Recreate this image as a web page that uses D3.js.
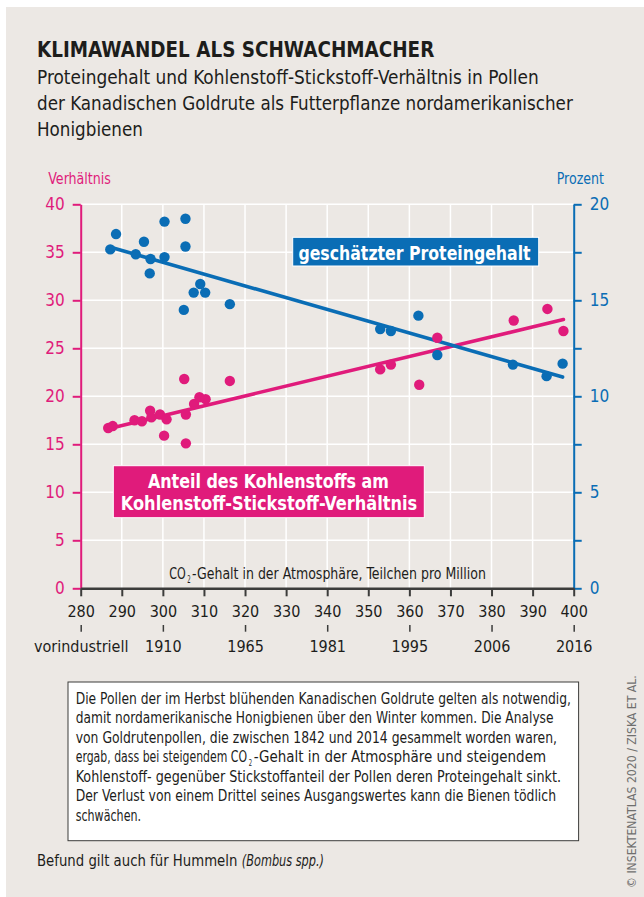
<!DOCTYPE html>
<html><head><meta charset="utf-8">
<script src="https://cdn.jsdelivr.net/npm/d3@7"></script>
<style>
html,body{margin:0;padding:0;background:#fff;}
svg{display:block;}
text{font-family:'Liberation Sans Narrow','DejaVu Sans Condensed','Liberation Sans',Arial,sans-serif;}
</style></head><body>
<script>
// Goldenrod pollen samples: atmospheric CO2 (ppm) vs. protein content (%)
const proteinCo2 = [287.2, 288.6, 293.4, 295.4, 297.0, 296.8, 300.4, 300.4, 305.5, 305.5, 305.1, 307.5, 309.1, 310.3, 316.3, 352.9, 355.5, 362.2, 366.8, 385.2, 393.4, 397.3];
const proteinPct = [17.65, 18.45, 17.4, 18.05, 17.15, 16.4, 19.1, 17.25, 19.25, 17.8, 14.5, 15.4, 15.85, 15.4, 14.8, 13.5, 13.4, 14.2, 12.15, 11.65, 11.05, 11.7];

// Same samples: carbon-to-nitrogen ratio
const ratioCo2 = [286.7, 287.8, 293.1, 294.9, 296.9, 297.2, 299.3, 300.3, 300.9, 305.2, 305.6, 305.6, 307.6, 308.9, 310.4, 316.3, 352.9, 355.5, 362.4, 366.8, 385.4, 393.6, 397.5];
const ratioValues = [16.7, 16.9, 17.5, 17.4, 18.5, 17.8, 18.1, 15.9, 17.6, 21.8, 18.1, 15.1, 19.2, 19.9, 19.7, 21.6, 22.8, 23.3, 21.2, 26.1, 27.9, 29.1, 26.8];

// Fitted trend lines (end points)
const proteinTrendCo2 = [287.5, 397.3];
const proteinTrendPct = [17.75, 11.0];
const ratioTrendCo2 = [286.5, 397.5];
const ratioTrendValues = [16.6, 28.0];

// Axis ticks
const co2Ticks = [280, 290, 300, 310, 320, 330, 340, 350, 360, 370, 380, 390, 400];
const ratioTicks = [0, 5, 10, 15, 20, 25, 30, 35, 40];
const percentTicks = [0, 2.5, 5, 7.5, 10, 12.5, 15, 17.5, 20];
const yearTickCo2 = [280, 300, 320, 340, 360, 380, 400];
const yearLabels = ["vorindustriell", "1910", "1965", "1981", "1995", "2006", "2016"];

const PINK = "#e01b7b", BLUE = "#0a6db5", BG = "#ece8e4", INK = "#1d1d1b";

const W = 644, H = 897;
const svg = d3.select("body").append("svg").attr("width", W).attr("height", H);

svg.append("rect").attr("x", 6).attr("y", 7).attr("width", W - 6).attr("height", H - 7).attr("fill", BG);

// Places a text at (x, y) and squeezes it horizontally to the given width (condensed look)
function label(s, x, y, w, opts = {}) {
  const t = svg.append("text").attr("x", 0).attr("y", 0)
    .attr("font-size", opts.size || 16).attr("fill", opts.fill || INK)
    .attr("text-anchor", opts.anchor || "start").text(s);
  if (opts.bold) t.attr("font-weight", "bold");
  if (opts.italic) t.attr("font-style", "italic");
  const k = w / t.node().getComputedTextLength();
  t.attr("transform", `translate(${x},${y})${opts.rotate ? ` rotate(${opts.rotate})` : ""} scale(${k},1)`);
  return t;
}

// A line made of runs [text, x0, x1, style]; subscripts sit lower and smaller
function runs(y, size, parts) {
  parts.forEach(([s, x0, x1, style]) => {
    if (style === "sub") label(s, x0, y + 4, x1 - x0, { size: size * 0.62 });
    else label(s, x0, y, x1 - x0, { size, italic: style === "italic" });
  });
}

// Heading
label("KLIMAWANDEL ALS SCHWACHMACHER", 37, 56.7, 397.5, { size: 22, bold: true });
label("Proteingehalt und Kohlenstoff-Stickstoff-Verhältnis in Pollen", 37, 83.5, 502, { size: 19 });
label("der Kanadischen Goldrute als Futterpflanze nordamerikanischer", 37, 109.5, 536, { size: 19 });
label("Honigbienen", 37, 135.5, 106, { size: 19 });

// Scales
const x = d3.scaleLinear().domain([280, 400]).range([80.7, 573.7]);
const yL = d3.scaleLinear().domain([0, 40]).range([588.3, 204.3]);
const yR = d3.scaleLinear().domain([0, 20]).range([588.3, 204.3]);

// Grid
const grid = svg.append("g").attr("stroke", "#fff").attr("stroke-width", 1.5);
grid.selectAll(".h").data(ratioTicks.filter(d => d > 0)).join("line")
  .attr("x1", x(280)).attr("x2", x(400)).attr("y1", d => yL(d)).attr("y2", d => yL(d));
grid.selectAll(".v").data(co2Ticks.filter(d => d > 280 && d < 400)).join("line")
  .attr("y1", yL(0)).attr("y2", yL(40)).attr("x1", d => x(d)).attr("x2", d => x(d));

// Axis titles
label("Verhältnis", 48.3, 183.5, 62.7, { size: 16, fill: PINK });
label("Prozent", 556.7, 183.5, 47.3, { size: 16, fill: BLUE });

const tickFont = "'Liberation Sans',Arial,sans-serif";

// Left axis
const gL = svg.append("g").attr("transform", `translate(${x(280)},0)`)
  .call(d3.axisLeft(yL).tickValues(ratioTicks).tickSize(8).tickPadding(8).tickSizeOuter(0));
gL.select(".domain").attr("stroke", PINK).attr("stroke-width", 2);
gL.selectAll(".tick line").attr("stroke", PINK).attr("stroke-width", 2);
gL.selectAll(".tick text").attr("fill", PINK).attr("font-size", 17).attr("font-family", tickFont);

// Right axis
const gR = svg.append("g").attr("transform", `translate(${x(400)},0)`)
  .call(d3.axisRight(yR).tickValues(percentTicks).tickSize(8).tickPadding(8).tickSizeOuter(0)
    .tickFormat(d => d % 5 === 0 ? d : ""));
gR.select(".domain").attr("stroke", BLUE).attr("stroke-width", 2);
gR.selectAll(".tick line").attr("stroke", BLUE).attr("stroke-width", 2);
gR.selectAll(".tick text").attr("fill", BLUE).attr("font-size", 17).attr("font-family", tickFont);

// Bottom axis
const gB = svg.append("g").attr("transform", `translate(0,${yL(0)})`)
  .call(d3.axisBottom(x).tickValues(co2Ticks).tickSize(8).tickPadding(9).tickSizeOuter(0));
gB.select(".domain").attr("stroke", "#3c3c3b").attr("stroke-width", 2.5);
gB.selectAll(".tick line").attr("stroke", "#3c3c3b").attr("stroke-width", 2);
gB.selectAll(".tick text").attr("fill", INK).attr("font-size", 16).attr("font-family", tickFont);

// Year axis
const gY = svg.append("g").attr("transform", "translate(0,625)")
  .call(d3.axisBottom(x).tickValues(yearTickCo2).tickSize(6.7).tickPadding(9.3)
    .tickFormat((d, i) => yearLabels[i]));
gY.select(".domain").remove();
gY.selectAll(".tick line").attr("stroke", "#3c3c3b").attr("stroke-width", 1.5);
gY.selectAll(".tick text").attr("fill", INK).attr("font-size", 16).attr("font-family", tickFont);

// x-axis title
runs(578.5, 16, [["CO", 169.3, 185.8], ["2", 187.2, 190.6, "sub"],
  ["-Gehalt in der Atmosphäre, Teilchen pro Million", 192, 486]]);

// Trend lines
const line = d3.line();
svg.append("path").attr("fill", "none").attr("stroke", PINK).attr("stroke-width", 3.6).attr("stroke-linecap", "round")
  .attr("d", line(ratioTrendCo2.map((c, i) => [x(c), yL(ratioTrendValues[i])])));
svg.append("path").attr("fill", "none").attr("stroke", BLUE).attr("stroke-width", 3.6).attr("stroke-linecap", "round")
  .attr("d", line(proteinTrendCo2.map((c, i) => [x(c), yR(proteinTrendPct[i])])));

// Points
svg.append("g").selectAll("circle").data(ratioCo2).join("circle")
  .attr("cx", d => x(d)).attr("cy", (d, i) => yL(ratioValues[i])).attr("r", 5.2).attr("fill", PINK);
svg.append("g").selectAll("circle").data(proteinCo2).join("circle")
  .attr("cx", d => x(d)).attr("cy", (d, i) => yR(proteinPct[i])).attr("r", 5.2).attr("fill", BLUE);

// Series labels
svg.append("rect").attr("x", 292.7).attr("y", 237.3).attr("width", 246).attr("height", 28.7)
  .attr("fill", BLUE).attr("stroke", "#fff").attr("stroke-width", 1);
label("geschätzter Proteingehalt", 414.5, 260, 232.4, { size: 20, bold: true, fill: "#fff", anchor: "middle" });

svg.append("rect").attr("x", 113.3).attr("y", 465.7).attr("width", 311).attr("height", 52)
  .attr("fill", PINK).attr("stroke", "#fff").attr("stroke-width", 1);
label("Anteil des Kohlenstoffs am", 268.4, 488.3, 241.3, { size: 20, bold: true, fill: "#fff", anchor: "middle" });
label("Kohlenstoff-Stickstoff-Verhältnis", 269, 509.6, 296.6, { size: 20, bold: true, fill: "#fff", anchor: "middle" });

// Explanatory box
svg.append("rect").attr("x", 68).attr("y", 682).attr("width", 510.6).attr("height", 158.7)
  .attr("fill", "#fff").attr("stroke", "#3c3c3b").attr("stroke-width", 1);
const boxY = i => 703.5 + i * 19.5;
runs(boxY(0), 15.5, [["Die Pollen der im Herbst blühenden Kanadischen Goldrute gelten als notwendig,", 75.7, 571.4]]);
runs(boxY(1), 15.5, [["damit nordamerikanische Honigbienen über den Winter kommen. Die Analyse", 75.7, 553.6]]);
runs(boxY(2), 15.5, [["von Goldrutenpollen, die zwischen 1842 und 2014 gesammelt worden waren,", 75.7, 557.1]]);
runs(boxY(3), 15.5, [["ergab, dass bei steigendem CO", 75.7, 247.3], ["2", 248.8, 252.2, "sub"],
  ["-Gehalt in der Atmosphäre und steigendem", 253.7, 546.4]]);
runs(boxY(4), 15.5, [["Kohlenstoff- gegenüber Stickstoffanteil der Pollen deren Proteingehalt sinkt.", 75.7, 561.4]]);
runs(boxY(5), 15.5, [["Der Verlust von einem Drittel seines Ausgangswertes kann die Bienen tödlich", 75.7, 556.4]]);
runs(boxY(6), 15.5, [["schwächen.", 75.7, 141.1]]);

runs(865.5, 15.5, [["Befund gilt auch für Hummeln", 37, 237.5], ["(Bombus spp.)", 241.8, 324, "italic"]]);

// Credit
label("© INSEKTENATLAS 2020 / ZISKA ET AL.", 635.5, 888, 213, { size: 12.5, fill: "#6f6f6e", rotate: -90 });
</script>
</body></html>
